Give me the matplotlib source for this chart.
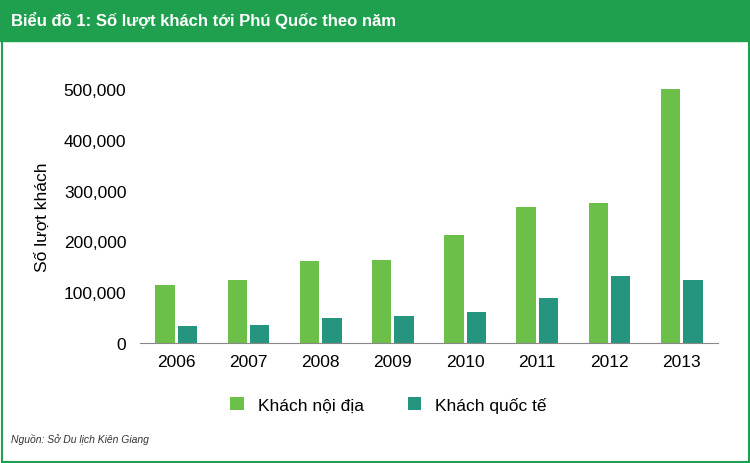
import matplotlib
matplotlib.use("Agg")
import matplotlib.pyplot as plt
import numpy as np
from matplotlib.patches import Rectangle

plt.rcParams["font.family"] = "Liberation Sans"

years = ["2006", "2007", "2008", "2009", "2010", "2011", "2012", "2013"]
domestic = [114000, 124000, 161000, 163000, 212000, 268000, 275000, 500000]
international = [33000, 35000, 49000, 53000, 61000, 89000, 132000, 124000]
yticks = [0, 100000, 200000, 300000, 400000, 500000]

fig = plt.figure(figsize=(7.5, 4.64), dpi=100)
fig.patches.append(Rectangle((0, 0.91), 1, 0.09, transform=fig.transFigure, color="#1ea04f", zorder=0))
fig.patches.append(Rectangle((0.002, 0.002), 0.996, 0.996, transform=fig.transFigure, fill=False, ec="#1ea04f", lw=1.5))
fig.text(0.015, 0.955, "Biểu đồ 1: Số lượt khách tới Phú Quốc theo năm", color="white",
         fontsize=12, fontweight="bold", va="center")

ax = fig.add_axes([0.187, 0.259, 0.77, 0.547])
x = np.arange(len(years))
w = 0.27
ax.bar(x - w / 2 - 0.02, domestic, w, color="#6cc04a", label="Khách nội địa")
ax.bar(x + w / 2 + 0.02, international, w, color="#25957f", label="Khách quốc tế")
ax.set_xlim(-0.5, len(years) - 0.5)
ax.set_ylim(0, 500000)
ax.set_yticks(yticks)
ax.set_yticklabels([f"{v:,}" for v in yticks], fontsize=12.5)
ax.set_xticks(x)
ax.set_xticklabels(years, fontsize=12.5)
ax.set_ylabel("Số lượt khách", fontsize=12.5, labelpad=10)
for s in ["top", "right", "left"]:
    ax.spines[s].set_visible(False)
ax.spines["bottom"].set_color("#888888")
ax.tick_params(axis="y", length=0, pad=10)
ax.tick_params(axis="x", length=0, pad=8)
ax.legend(loc="upper center", bbox_to_anchor=(0.43, -0.15), ncol=2, frameon=False,
          fontsize=12.5, handlelength=0.8, handleheight=0.8, columnspacing=2.5)
fig.text(0.015, 0.045, "Nguồn: Sở Du lịch Kiên Giang", fontsize=7.5, style="italic", color="#333333")
fig.savefig("out.png", dpi=100)
